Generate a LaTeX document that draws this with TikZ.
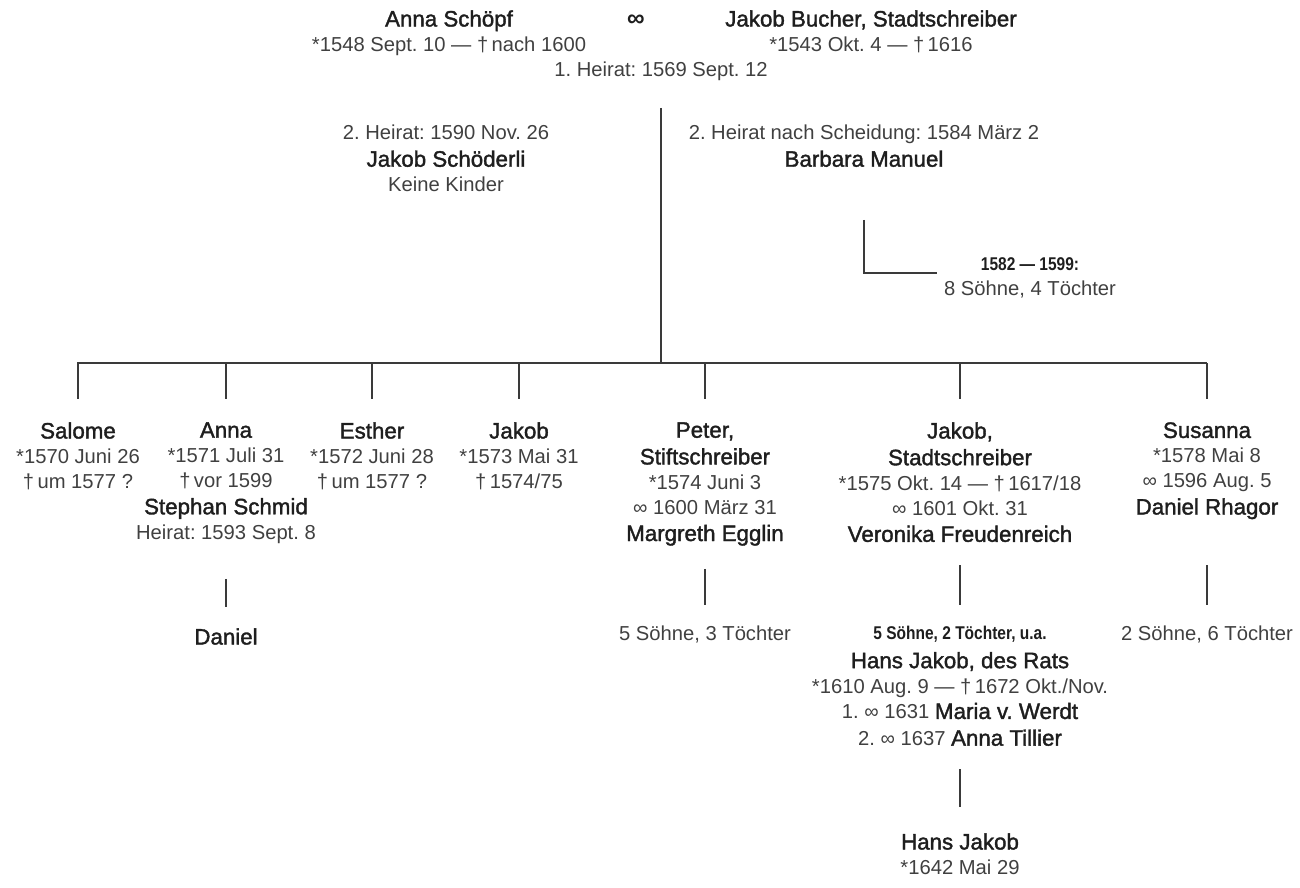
\documentclass[tikz,border=0pt]{standalone}
\usepackage{fontspec}
\setmainfont{Liberation Sans}
\newfontfamily\namefont{Liberation Sans}[BoldFont={Liberation Sans}, BoldFeatures={FakeBold=1.6}]
\newfontfamily\smallbold{Liberation Sans}[FakeStretch=0.84]
\usepackage{xcolor}
\usepackage{tikz}
\usetikzlibrary{positioning}
\definecolor{ink}{HTML}{404040}
\definecolor{dark}{HTML}{1E1E1E}
\definecolor{rule}{HTML}{3A3A3A}
\frenchspacing
\newcommand{\nm}[1]{{\color{dark}\namefont\bfseries\fontsize{12.7}{14.2}\selectfont #1}}
\newcommand{\bd}[1]{{\color{dark}\smallbold\bfseries\fontsize{10.5}{14.2}\selectfont #1}}
\tikzset{
  conn/.style={draw=rule, line width=1.1pt},
  person/.style={align=center, anchor=north, inner sep=0pt, text=ink,
    font=\fontsize{11.5}{14.2}\selectfont},
}

\begin{document}
\begin{tikzpicture}[x=0.02cm, y=-0.02cm]
  \useasboundingbox (0,0) rectangle (1300,888);
  % parents
  \node[person] (schoepf) at (449,10) {\nm{Anna Schöpf}\\{}*1548 Sept. 10 — †\,nach 1600};
  \node[person, anchor=center, text=dark, font=\bfseries\fontsize{14}{14}\selectfont] (inf) at (636,21) {∞};
  \node[person] (bucher) at (871,10) {\nm{Jakob Bucher, Stadtschreiber}\\{}*1543 Okt. 4 — †\,1616};
  \node[person] (heirat1) at (661,62) {1. Heirat: 1569 Sept. 12};
  \node[person] (schoederli) at (446,125) {2. Heirat: 1590 Nov. 26\\[1pt]\nm{Jakob Schöderli}\\Keine Kinder};
  \node[person] (manuel) at (864,125) {2. Heirat nach Scheidung: 1584 März 2\\[1pt]\nm{Barbara Manuel}};
  \node[person] (kinderM) at (1030,257) {\bd{1582 — 1599:}\\8 Söhne, 4 Töchter};
  \coordinate (bar) at (661,363);
  \coordinate (barL) at (77,363);
  \coordinate (barR) at (1207,363);
  \coordinate (lend) at (937,273);
  \draw[conn, shorten <=15pt] (heirat1) -- (bar);
  \draw[conn] (barL) -- (barR);
  \draw[conn, shorten <=30pt] (manuel.south) |- (lend);
  % children
  \node[person] (salome) at (78,422) {\nm{Salome}\\{}*1570 Juni 26\\†\,um 1577 ?};
  \node[person] (anna) at (226,422) {\nm{Anna}\\{}*1571 Juli 31\\†\,vor 1599\\[1pt]\nm{Stephan Schmid}\\Heirat: 1593 Sept. 8};
  \node[person] (esther) at (372,422) {\nm{Esther}\\{}*1572 Juni 28\\†\,um 1577 ?};
  \node[person] (jakobA) at (519,422) {\nm{Jakob}\\{}*1573 Mai 31\\†\,1574/75};
  \node[person] (peter) at (705,422) {\nm{Peter,}\\[1pt]\nm{Stiftschreiber}\\{}*1574 Juni 3\\∞ 1600 März 31\\[1pt]\nm{Margreth Egglin}};
  \node[person] (jakobB) at (960,422) {\nm{Jakob,}\\[1pt]\nm{Stadtschreiber}\\{}*1575 Okt. 14 — †\,1617/18\\∞ 1601 Okt. 31\\[1pt]\nm{Veronika Freudenreich}};
  \node[person] (susanna) at (1207,422) {\nm{Susanna}\\{}*1578 Mai 8\\∞ 1596 Aug. 5\\[1pt]\nm{Daniel Rhagor}};
  \foreach \c in {salome,anna,esther,jakobA,peter,jakobB,susanna}
    \draw[conn, shorten >=13pt] (\c.north |- bar) -- (\c.north);
  % grandchildren
  \node[person] (daniel) at (226,628) {\nm{Daniel}};
  \node[person] (kinderP) at (705,626) {5 Söhne, 3 Töchter};
  \node[person] (hansjakob) at (960,626) {\bd{5 Söhne, 2 Töchter, u.a.}\\[2pt]\nm{Hans Jakob, des Rats}\\{}*1610 Aug. 9 — †\,1672 Okt./Nov.\\[0.5pt]1. ∞ 1631 \nm{Maria v. Werdt}\\[1pt]2. ∞ 1637 \nm{Anna Tillier}};
  \node[person] (kinderS) at (1207,626) {2 Söhne, 6 Töchter};
  \node[person] (hansjakob2) at (960,833) {\nm{Hans Jakob}\\{}*1642 Mai 29};
  \foreach \a/\b/\s/\t in {anna/daniel/20pt/12pt, peter/kinderP/13pt/12pt,
      jakobB/hansjakob/13pt/12pt, susanna/kinderS/26pt/12pt, hansjakob/hansjakob2/13pt/15pt}
    \draw[conn, shorten <=\s, shorten >=\t] (\a) -- (\b);
\end{tikzpicture}
\end{document}
